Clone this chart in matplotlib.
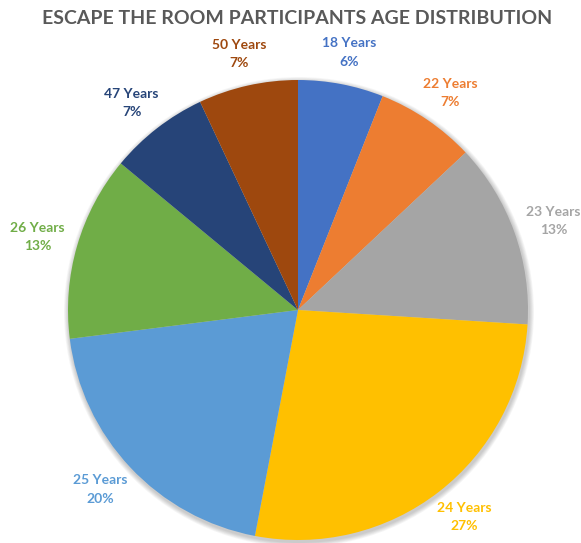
import numpy as np
import matplotlib.pyplot as plt
from matplotlib.patches import Circle

ages = ["18 Years", "22 Years", "23 Years", "24 Years",
        "25 Years", "26 Years", "47 Years", "50 Years"]
shares = [6, 7, 13, 27, 20, 13, 7, 7]
colors = ["#4472C4", "#ED7D31", "#A5A5A5", "#FFC000",
          "#5B9BD5", "#70AD47", "#264478", "#9E480E"]

W, H = 581, 543
fig = plt.figure(figsize=(W / 100, H / 100), dpi=100)
ax = fig.add_axes([0, 0, 1, 1])

cx, cy, r = 298, H - 310, 230

# soft shadow around the pie
for k in range(6):
    ax.add_patch(Circle((cx + 1, cy - 2), r + 1 + k * 0.8, color="black",
                        alpha=0.035, lw=0, zorder=0))

wedges, _ = ax.pie(shares, colors=colors, startangle=90, counterclock=False,
                   center=(cx, cy), radius=r, frame=True,
                   wedgeprops=dict(linewidth=0))
ax.set_xlim(0, W)
ax.set_ylim(0, H)
ax.set_aspect("equal")
ax.axis("off")

# data labels just outside each wedge
for w, name, val, col in zip(wedges, ages, shares, colors):
    mid = np.deg2rad((w.theta1 + w.theta2) / 2)
    tx = cx + 1.18 * r * np.cos(mid)
    ty = cy + 1.14 * r * np.sin(mid)
    ax.text(tx, ty, f"{name}\n{val}%", ha="center", va="center",
            color=col, fontsize=10, fontweight="bold", family="Lato",
            linespacing=1.65)

fig.text(297 / W, 1 - 18 / H, "ESCAPE THE ROOM PARTICIPANTS AGE DISTRIBUTION",
         ha="center", va="center", fontsize=14, fontweight="bold",
         family="Lato", color="#595959")

fig.savefig("out.png", dpi=100)
